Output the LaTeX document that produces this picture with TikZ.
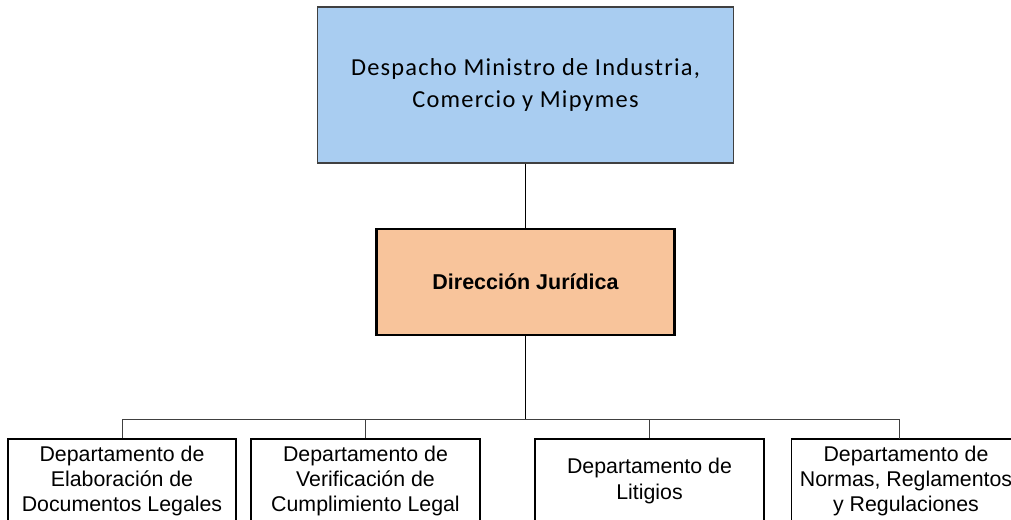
\documentclass[tikz,border=0pt]{standalone}
\usepackage{fontspec}
\setmainfont{Liberation Sans}
\newfontfamily\topfont[LetterSpace=5]{Carlito}
\definecolor{topblue}{HTML}{A9CDF1}
\definecolor{midorange}{HTML}{F8C49B}
\definecolor{linegrey}{HTML}{404040}
\begin{document}
\begin{tikzpicture}[x=0.75pt,y=-0.75pt,
  topbox/.style={draw=linegrey,line width=0.8pt,fill=topblue,
    minimum width=416*0.75pt,minimum height=156*0.75pt,inner sep=0pt,
    align=center,font=\topfont\fontsize{18.3}{24}\selectfont},
  midbox/.style={draw=black,line width=2.2pt,fill=midorange,
    minimum width=298*0.75pt,minimum height=106*0.75pt,inner sep=0pt,
    align=center,font=\bfseries\fontsize{16.1}{18.75}\selectfont},
  deptbox/.style={draw=black,line width=1.1pt,fill=white,
    minimum width=229*0.75pt,minimum height=84*0.75pt,inner sep=0pt,
    align=center,font=\fontsize{16}{18.9}\selectfont},
  mainconn/.style={draw=black,line width=1.1pt},
  busconn/.style={draw=linegrey,line width=0.75pt}]
\useasboundingbox (0,0) rectangle (1011,519);
\clip (0,0) rectangle (1011,519);
\node[topbox] (top) at (525.5,85) {Despacho Ministro de Industria,\\Comercio y Mipymes};
\node[midbox] (dj) at (525.5,282) {Dirección Jurídica};
\node[deptbox,minimum width=228*0.75pt] (b1) at (122,481) {Departamento de\\Elaboración de\\Documentos Legales};
\node[deptbox] (b2) at (365.5,481) {Departamento de\\Verificación de\\Cumplimiento Legal};
\node[deptbox] (b3) at (649.5,481) {Departamento de\\Litigios};
\node[deptbox] (b4) at (906,481) {Departamento de\\Normas, Reglamentos\\y Regulaciones};
\coordinate (bus) at (525.5,419);
\coordinate (d4) at (899,439);
\draw[mainconn] (top.south) -- (dj.north);
\draw[mainconn] (dj.south) -- (bus);
\draw[busconn] (b1.north) |- (d4 |- bus) -- (d4);
\draw[busconn] (b2.north) -- (b2.north |- bus);
\draw[busconn] (b3.north) -- (b3.north |- bus);
\end{tikzpicture}
\end{document}
